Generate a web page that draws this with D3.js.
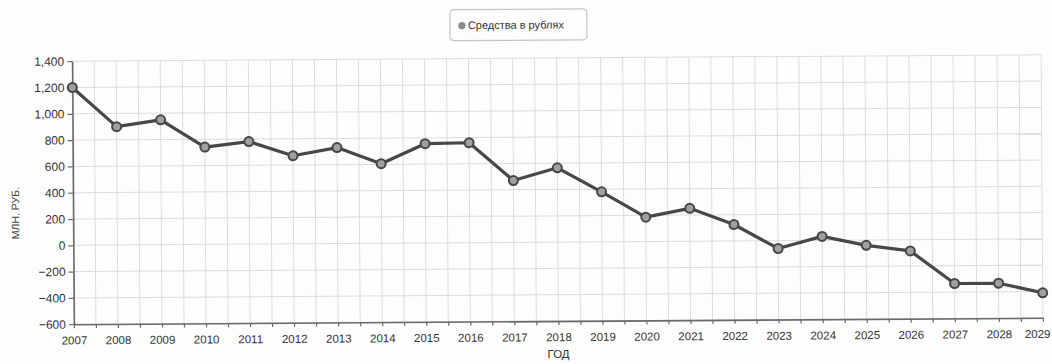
<!DOCTYPE html>
<html>
<head>
<meta charset="utf-8">
<script src="https://cdn.jsdelivr.net/npm/d3@7/dist/d3.min.js"></script>
<style>
  html, body { margin: 0; padding: 0; background: #fdfdfd; }
  svg { display: block; font-family: "Liberation Sans", Arial, sans-serif; }
</style>
</head>
<body>
<svg id="chart" width="1052" height="364"></svg>
<script>
// Annual funds, million rubles
const years = [2007, 2008, 2009, 2010, 2011, 2012, 2013, 2014, 2015, 2016, 2017, 2018,
               2019, 2020, 2021, 2022, 2023, 2024, 2025, 2026, 2027, 2028, 2029];
const funds = [1200, 900, 950, 740, 780, 670, 730, 605, 755, 760, 470, 565,
               380, 185, 250, 125, -60, 30, -40, -85, -335, -335, -410];
const yTicks = [-600, -400, -200, 0, 200, 400, 600, 800, 1000, 1200, 1400];
const seriesName = "Средства в рублях";
const yTitle = "МЛН. РУБ.";
const xTitle = "ГОД";

const svg = d3.select("#chart");
const root = svg.append("g").attr("transform", "rotate(-0.38, 557, 190)");

const x = d3.scaleLinear().domain([2007, 2029]).range([73, 1042]);
const y = d3.scaleLinear().domain([-600, 1400]).range([321, 58]);

const fmt = d3.format(",");

// grid: vertical lines every half year, horizontal at labelled values
const halfYears = d3.range(2007, 2029.01, 0.5);
root.append("g").selectAll("line").data(halfYears).join("line")
  .attr("x1", d => x(d)).attr("x2", d => x(d))
  .attr("y1", y(1400)).attr("y2", y(-600))
  .attr("stroke", "#dcdcdc").attr("stroke-width", 1);
root.append("g").selectAll("line").data(yTicks).join("line")
  .attr("x1", x(2007)).attr("x2", x(2029))
  .attr("y1", d => y(d)).attr("y2", d => y(d))
  .attr("stroke", "#dcdcdc").attr("stroke-width", 1);

// axes
const yAxis = root.append("g").attr("transform", `translate(${x(2007)},0)`)
  .call(d3.axisLeft(y).tickValues(yTicks).tickFormat(fmt).tickSize(5).tickSizeOuter(0));
const xAxis = root.append("g").attr("transform", `translate(0,${y(-600)})`)
  .call(d3.axisBottom(x).tickValues(halfYears).tickSize(4).tickSizeOuter(0)
    .tickFormat(d => Number.isInteger(d) ? String(d) : ""));

[yAxis, xAxis].forEach(a => {
  a.select(".domain").attr("stroke", "#6a6a6a").attr("stroke-width", 1.6);
  a.selectAll(".tick line").attr("stroke", "#6a6a6a").attr("stroke-width", 1.2);
  a.selectAll("text").attr("fill", "#333")
    .attr("font-family", "'Liberation Sans', Arial, sans-serif");
});
yAxis.selectAll("text").attr("x", -8).attr("font-size", 12);
xAxis.selectAll("text").attr("y", 12).attr("font-size", 11.5);
// keep the last year label inside the right edge
xAxis.selectAll(".tick").filter(d => d === 2029).select("text")
  .attr("text-anchor", "end").attr("dx", 7);

// axis titles
root.append("text").attr("transform", `translate(19,${(y(1400) + y(-600)) / 2 + 20}) rotate(-90)`)
  .attr("text-anchor", "middle").attr("font-size", 10.5).attr("fill", "#444").text(yTitle);
root.append("text").attr("x", (x(2007) + x(2029)) / 2).attr("y", 358)
  .attr("text-anchor", "middle").attr("font-size", 11.5).attr("fill", "#333").text(xTitle);

// series line
const pts = years.map((yr, i) => [yr, funds[i]]);
root.append("path").datum(pts)
  .attr("fill", "none").attr("stroke", "#474747").attr("stroke-width", 3.2)
  .attr("stroke-linejoin", "round")
  .attr("d", d3.line().x(d => x(d[0])).y(d => y(d[1])));
root.append("g").selectAll("circle").data(pts).join("circle")
  .attr("cx", d => x(d[0])).attr("cy", d => y(d[1])).attr("r", 4.5)
  .attr("fill", "#a0a0a0").attr("stroke", "#474747").attr("stroke-width", 2);

// legend
const lg = root.append("g").attr("transform", "translate(451,9)");
lg.append("rect").attr("width", 137).attr("height", 31).attr("rx", 4)
  .attr("fill", "#fdfdfd").attr("stroke", "#c4c4c4").attr("stroke-width", 1.2);
lg.append("circle").attr("cx", 12).attr("cy", 16).attr("r", 3.6).attr("fill", "#8c8c8c");
lg.append("text").attr("x", 18).attr("y", 19.5).attr("font-size", 11).attr("fill", "#333")
  .text(seriesName);
</script>
</body>
</html>
